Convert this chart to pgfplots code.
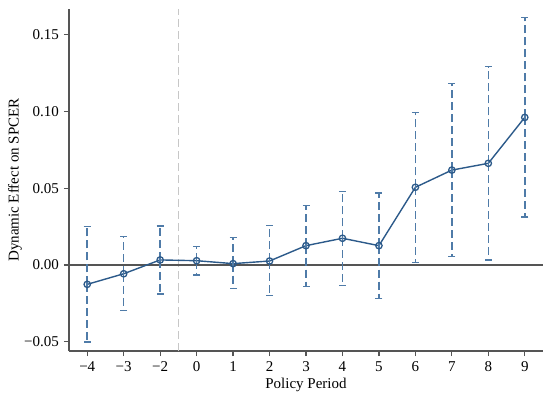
\documentclass[border=0pt]{standalone}
\usepackage{pgfplots}
\pgfplotsset{compat=1.18}
\usepackage{fontspec}
\setmainfont{Liberation Serif}
\definecolor{linecol}{HTML}{2C5A8A}
\definecolor{ebcol}{HTML}{4F7BA8}
\definecolor{axcol}{HTML}{555555}
\begin{document}
\fontsize{15bp}{17bp}\selectfont
\begin{tikzpicture}
\begin{axis}[
  width=474bp, height=342bp, scale only axis,
  xmin=-0.5, xmax=12.5, ymin=-0.056, ymax=0.1667,
  axis x line*=bottom, axis y line*=left,
  axis line style={draw=axcol, line width=1.5bp, -},
  tick align=outside, major tick length=5bp,
  tick style={draw=axcol, line width=1.2bp},
  xtick={0,...,12},
  xticklabels={−4,−3,−2,0,1,2,3,4,5,6,7,8,9},
  ytick={-0.05,0,0.05,0.10,0.15},
  yticklabels={−0.05,0.00,0.05,0.10,0.15},
  ticklabel style={font=\fontsize{15bp}{17bp}\selectfont},
  label style={font=\fontsize{15bp}{17bp}\selectfont},
  xlabel={Policy Period},
  ylabel={Dynamic Effect on SPCER},
  xlabel style={yshift=3bp},
  ylabel style={yshift=-8bp},
  clip=false,
]
\draw[color=black!22, line width=1bp, dash pattern=on 8bp off 4bp] (axis cs:2.5,-0.056) -- (axis cs:2.5,0.1667);
\draw[color=axcol, line width=1.6bp] (axis cs:-0.5,0) -- (axis cs:12.5,0);
\addplot[color=linecol, line width=1.4bp, mark=o, mark size=3.2bp,
  mark options={solid, draw=linecol, fill=ebcol!35, line width=1.3bp},
  error bars/.cd, y dir=both, y explicit,
  error bar style={draw=ebcol, line width=1.5bp, dash pattern=on 8bp off 4bp},
  error mark options={draw=ebcol, solid, mark size=3.5bp, line width=1.5bp, rotate=90}]
  table[x=x, y=y, y error plus=ep, y error minus=em] {
x y ep em
0 -0.0126 0.0378 0.0377
1 -0.0057 0.0244 0.0240
2 0.0033 0.0221 0.0222
3 0.0028 0.0091 0.0093
4 0.0009 0.0169 0.0163
5 0.0026 0.0230 0.0223
6 0.0126 0.0263 0.0265
7 0.0174 0.0306 0.0309
8 0.0126 0.0344 0.0345
9 0.0506 0.0486 0.0491
10 0.0618 0.0565 0.0564
11 0.0662 0.0629 0.0629
12 0.0961 0.0651 0.0649
};
\end{axis}
\pgfresetboundingbox
\path ([shift={(-69bp,-49bp)}]current axis.south west) rectangle ([shift={(7bp,9bp)}]current axis.north east);
\end{tikzpicture}
\end{document}
